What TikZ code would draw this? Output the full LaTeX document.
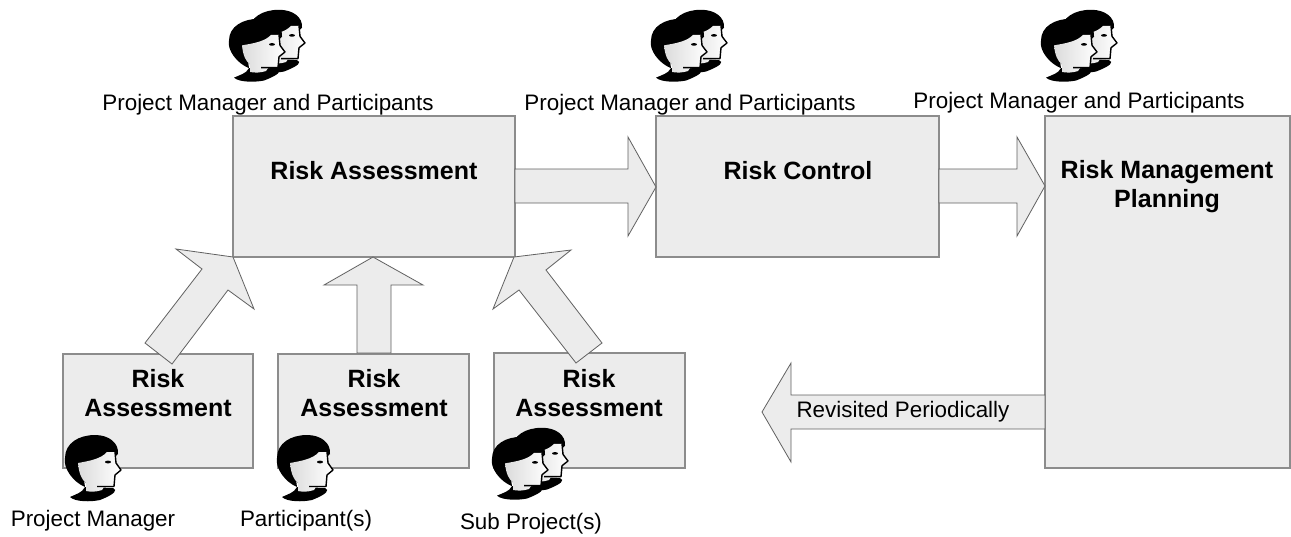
\documentclass[tikz,border=0pt]{standalone}
\usepackage{fontspec}
\setmainfont{Liberation Sans}
\definecolor{boxfill}{HTML}{ECECEC}
\definecolor{boxline}{HTML}{8C8C8C}
\tikzset{
  x=1pt,y=-1pt,
  box/.style={draw=boxline,fill=boxfill,line width=1.1pt},
  arrowshape/.style={draw=black!62,fill=boxfill,line width=0.8pt},
  title/.style={font=\fontsize{25}{29.5}\selectfont\bfseries,align=center,inner sep=0pt,text=black},
  caption/.style={font=\fontsize{22.4}{27}\selectfont,inner sep=0pt,text=black},
  person/.pic={
    % shoulders
    \fill[black] (-51,27) .. controls (-45,24) and (-39,23) .. (-36,17) -- (-8,18) .. controls (-3,20) and (-6,24) .. (-21,30) .. controls (-30,32) and (-46,32) .. (-51,27) -- cycle;
    % hair
    \fill[black] (-36,17) .. controls (-48,12) and (-58,-2) .. (-56,-12) .. controls (-56,-27) and (-42,-35) .. (-26,-35) .. controls (-12,-35) and (-2,-27) .. (-3,-16) -- (-15,-5) -- (-38,2) -- cycle;
    % face and neck
    \fill[left color=black!14,right color=white] (-43,-7) .. controls (-32,-9) and (-20,-11) .. (-14,-18) -- (-6,-18) .. controls (-6,-10) and (-5,-7) .. (0,0) -- (-6,5) -- (-7,16) -- (-17,17) -- (-19,20) .. controls (-25,22) and (-30,22) .. (-35,21) -- (-35,13) .. controls (-39,10) and (-42,4) .. (-43,-7) -- cycle;
    % profile line
    \draw[black,line width=1.4pt,line join=round] (-24,16.5) -- (-7,16.5) -- (-6,5) -- (0,0) -- (-5,-7) -- (-6,-18);
    % eye
    \fill[black] (-13,-8) ellipse (3pt and 1.4pt);
  },
  persons/.pic={
    \pic[yscale=.95] at (20,-9) {person};
    \pic[yscale=.95] at (0,0) {person};
  }
}
\begin{document}
\begin{tikzpicture}
\useasboundingbox (0,0) rectangle (1291,536);
\fill[white] (0,0) rectangle (1291,536);
% boxes
\path[box] (233,116) rectangle (515,257);
\path[box] (656,116) rectangle (939,257);
\path[box] (1045,116) rectangle (1290,468);
\path[box] (63,354) rectangle (253,468);
\path[box] (278,354) rectangle (469,468);
\path[box] (494,353) rectangle (685,468);
% arrows
\path[arrowshape] (515,169) -- (628,169) -- (628,137) -- (656,187) -- (628,236) -- (628,203) -- (515,203) -- cycle;
\path[arrowshape] (939,169) -- (1017,169) -- (1017,137) -- (1045,186) -- (1017,236) -- (1017,203) -- (939,203) -- cycle;
\path[arrowshape] (145,343) -- (202,269) -- (176,249) -- (233,257) -- (254,309) -- (228,290) -- (172,364) -- cycle;
\path[arrowshape] (357,353) -- (357,285) -- (324,285) -- (373,257) -- (423,285) -- (391,285) -- (391,353) -- cycle;
\path[arrowshape] (576,363) -- (519,290) -- (493,309) -- (514,257) -- (571,250) -- (546,270) -- (602,343) -- cycle;
\path[arrowshape] (1045,395) -- (791,395) -- (791,363) -- (762,412) -- (791,462) -- (791,429) -- (1045,429) -- cycle;
% titles
\node[title] (t1) at (374,170.5) {Risk Assessment};
\node[title] (t2) at (798,170.5) {Risk Control};
\node[title] (t3) at (1167,186.5) {Risk Management\\Planning};
\node[title] (t4) at (158,393) {Risk\\Assessment};
\node[title] (t5) at (374,393) {Risk\\Assessment};
\node[title] (t6) at (589,393) {Risk\\Assessment};
% captions
\node[caption] (c1) at (268,105) {Project Manager and Participants};
\node[caption] (c2) at (690,105) {Project Manager and Participants};
\node[caption] (c3) at (1079,103) {Project Manager and Participants};
\node[caption] (c4) at (93,521) {Project Manager};
\node[caption] (c5) at (306,521) {Participant(s)};
\node[caption] (c6) at (531,524) {Sub Project(s)};
\node[caption] (c7) at (903,412) {Revisited Periodically};
% people
\pic at (285,52) {persons};
\pic at (707,52) {persons};
\pic at (1097,52) {persons};
\pic at (121,470) {person};
\pic at (333,470) {person};
\pic at (548,470) {persons};
\end{tikzpicture}
\end{document}
